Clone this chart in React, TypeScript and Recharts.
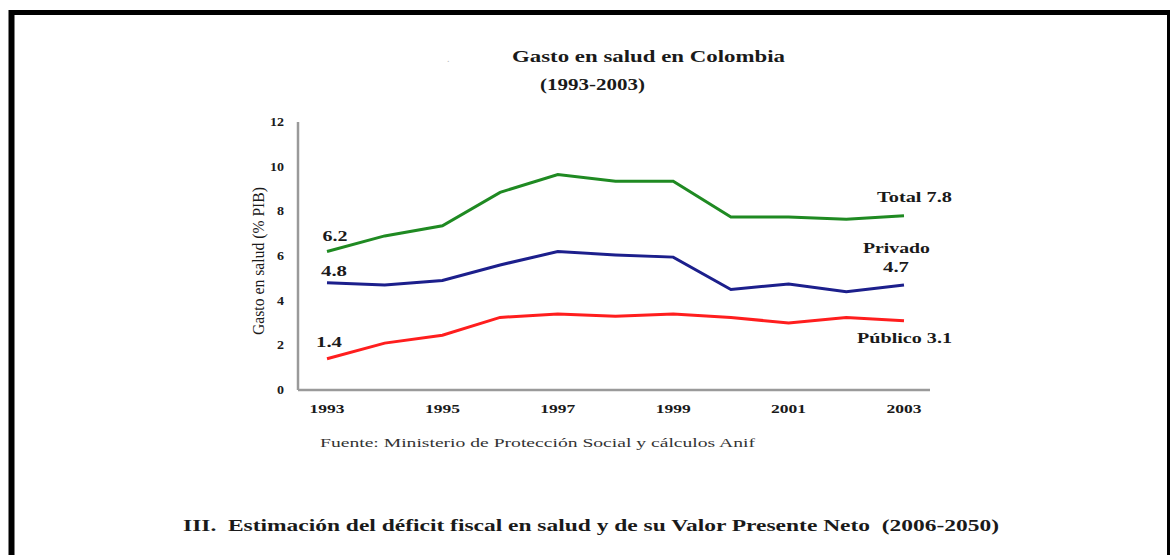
import React from 'react';
import { LineChart, Line, XAxis, YAxis } from 'recharts';

const years = ['1993', '1994', '1995', '1996', '1997', '1998', '1999', '2000', '2001', '2002', '2003'];
const total = [6.2, 6.9, 7.35, 8.85, 9.65, 9.35, 9.35, 7.75, 7.75, 7.65, 7.8];
const privado = [4.8, 4.7, 4.9, 5.6, 6.2, 6.05, 5.95, 4.5, 4.75, 4.4, 4.7];
const publico = [1.4, 2.1, 2.45, 3.25, 3.4, 3.3, 3.4, 3.25, 3.0, 3.25, 3.1];
const yTicks = [0, 2, 4, 6, 8, 10, 12];

const titleText = 'Gasto en salud en Colombia';
const subtitleText = '(1993-2003)';
const yLabelText = 'Gasto en salud (% PIB)';
const sourceText = 'Fuente: Ministerio de Protección Social y cálculos Anif';
const sectionText = 'III.  Estimación del déficit fiscal en salud y de su Valor Presente Neto  (2006-2050)';

const data = years.map((year, i) => ({ year, total: total[i], privado: privado[i], publico: publico[i] }));

const SERIF = "'Liberation Serif', 'Times New Roman', Times, serif";
const TEXT = '#1a1a1a';
const GREEN = '#1f8a22';
const BLUE = '#1c1f8c';
const RED = '#ff1e1e';
const AXIS = '#9a9a9a';
const LAST = years.length - 1;

const bold = { fontFamily: SERIF, fontWeight: 'bold' as const };
const regular = { fontFamily: SERIF, fontWeight: 'normal' as const };

const XTick = (props: any) => {
  const { x, y, payload } = props;
  return (
    <text x={x} y={y} dy={15} textAnchor="middle" style={bold} fontSize={12}
      fill={TEXT} textLength={35} lengthAdjust="spacingAndGlyphs">{payload.value}</text>
  );
};

const YTick = (props: any) => {
  const { x, y, payload } = props;
  const s = String(payload.value);
  return (
    <text x={x - 6} y={y} dy={4} textAnchor="end" style={bold} fontSize={12}
      fill={TEXT} textLength={s.length * 7} lengthAdjust="spacingAndGlyphs">{s}</text>
  );
};

const lbl = (x: number, y: number, text: string, len: number, anchor: string, key: string) => (
  <text key={key} x={x} y={y} textAnchor={anchor as any} style={bold} fontSize={14}
    fill={TEXT} textLength={len} lengthAdjust="spacingAndGlyphs">{text}</text>
);

const totalLabel = (p: any) => {
  const { x, y, index, value } = p;
  if (index === 0) return <g>{lbl(x + 8, y - 11, String(value), 25, 'middle', 'a')}</g>;
  if (index === LAST) return <g>{lbl(x + 48, y - 14, `Total ${value}`, 75, 'end', 'b')}</g>;
  return <g />;
};

const privadoLabel = (p: any) => {
  const { x, y, index, value } = p;
  if (index === 0) return <g>{lbl(x + 7, y - 7, String(value), 26, 'middle', 'a')}</g>;
  if (index === LAST)
    return (
      <g>
        {lbl(x - 7.5, y - 32, 'Privado', 67, 'middle', 'b')}
        {lbl(x - 8, y - 13, String(value), 26, 'middle', 'c')}
      </g>
    );
  return <g />;
};

const publicoLabel = (p: any) => {
  const { x, y, index, value } = p;
  if (index === 0) return <g>{lbl(x + 2, y - 12, String(value), 26, 'middle', 'a')}</g>;
  if (index === LAST) return <g>{lbl(x + 48, y + 22, `Público ${value}`, 95, 'end', 'b')}</g>;
  return <g />;
};

export default function App() {
  return (
    <div style={{ position: 'absolute', left: 0, top: 0, width: 1173, height: 555, background: '#fff', overflow: 'hidden' }}>
      <svg width={1173} height={555} style={{ position: 'absolute', left: 0, top: 0 }}>
        <line x1={11.5} y1={10} x2={11.5} y2={555} stroke="#000" strokeWidth={6} />
        <line x1={9} y1={12.5} x2={1170} y2={12.5} stroke="#000" strokeWidth={5} />
        <line x1={1168.5} y1={10} x2={1168.5} y2={555} stroke="#000" strokeWidth={3} />
        <text x={447} y={62} style={regular} fontSize={10} fill="#bbb">.</text>
        <text x={512} y={62} style={bold} fontSize={17} fill={TEXT}
          textLength={273} lengthAdjust="spacingAndGlyphs">{titleText}</text>
        <text x={540} y={90} style={bold} fontSize={16} fill={TEXT}
          textLength={105} lengthAdjust="spacingAndGlyphs">{subtitleText}</text>
        <text x={0} y={0} transform="translate(264 261) rotate(-90)" textAnchor="middle" style={regular}
          fontSize={16} fill={TEXT} textLength={148} lengthAdjust="spacingAndGlyphs">{yLabelText}</text>
        <text x={320} y={447} style={regular} fontSize={13} fill="#333"
          textLength={435} lengthAdjust="spacingAndGlyphs">{sourceText}</text>
        <text x={183} y={531} style={{ ...bold, whiteSpace: 'pre' }} fontSize={16} fill={TEXT}
          textLength={816} lengthAdjust="spacingAndGlyphs">{sectionText}</text>
      </svg>
      <div style={{ position: 'absolute', left: 0, top: 0 }}>
        <LineChart width={1173} height={555} data={data} margin={{ top: 122, right: 243, left: 238, bottom: 135 }}>
          <XAxis dataKey="year" type="category" interval={1} padding={{ left: 29, right: 26 }}
            axisLine={{ stroke: AXIS, strokeWidth: 2.5 }} tickLine={false} height={30} tick={<XTick />} />
          <YAxis type="number" domain={[0, 12]} ticks={yTicks} width={60}
            axisLine={{ stroke: AXIS, strokeWidth: 2.5 }} tickLine={false} tick={<YTick />} />
          <Line type="linear" dataKey="total" stroke={GREEN} strokeWidth={3} dot={false} isAnimationActive={false} label={totalLabel} />
          <Line type="linear" dataKey="privado" stroke={BLUE} strokeWidth={3} dot={false} isAnimationActive={false} label={privadoLabel} />
          <Line type="linear" dataKey="publico" stroke={RED} strokeWidth={3} dot={false} isAnimationActive={false} label={publicoLabel} />
        </LineChart>
      </div>
    </div>
  );
}
